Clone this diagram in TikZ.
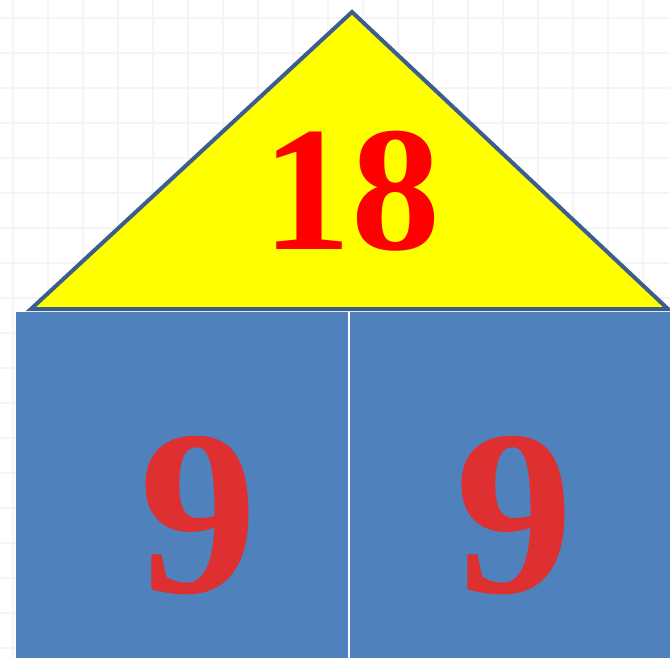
\documentclass[tikz,border=0pt]{standalone}
\usepackage{fontspec}
\setmainfont{Liberation Serif}
\definecolor{boxblue}{HTML}{4F81BD}
\definecolor{edgeblue}{HTML}{3B5E8E}
\definecolor{roofyellow}{HTML}{FFFF00}
\definecolor{ninered}{HTML}{DE3030}
\definecolor{gridgray}{HTML}{F5F5F5}
\begin{document}
\begin{tikzpicture}[x=1pt,y=-1pt,
  wall/.style={draw=none,fill=boxblue,minimum width=333pt,minimum height=346pt,inner sep=0pt,outer sep=0pt},
  bignum/.style={inner sep=0pt,anchor=base,font=\fontsize{236}{236}\selectfont\bfseries,text=ninered},
  roofnum/.style={inner sep=0pt,anchor=base,font=\fontsize{178}{178}\selectfont\bfseries,text=red}]
\useasboundingbox (0,0) rectangle (670,658);
\fill[white] (0,0) rectangle (670,658);
\foreach \g in {13,48,...,670} \draw[gridgray,line width=1.5pt] (\g,0) -- (\g,658);
\foreach \g in {18,53,...,658} \draw[gridgray,line width=1.5pt] (0,\g) -- (670,\g);
% walls
\node[wall,anchor=north west] (leftwall) at (16,312) {};
\node[wall,anchor=north west,minimum width=321pt] (rightwall) at (349,312) {};
\draw[white,line width=2pt] (leftwall.north east) -- (leftwall.south east);
% roof
\coordinate (apex) at (352,12);
\coordinate (bl) at (31,309);
\coordinate (br) at (668,309);
\draw[edgeblue,line width=4pt,fill=roofyellow,line join=miter] (apex) -- (br) -- (bl) -- cycle;
% numbers
\node[roofnum] (top) at (351,250) {18};
\node[bignum] (n1) at (198,592) {9};
\node[bignum] (n2) at (514,592) {9};
\end{tikzpicture}
\end{document}
